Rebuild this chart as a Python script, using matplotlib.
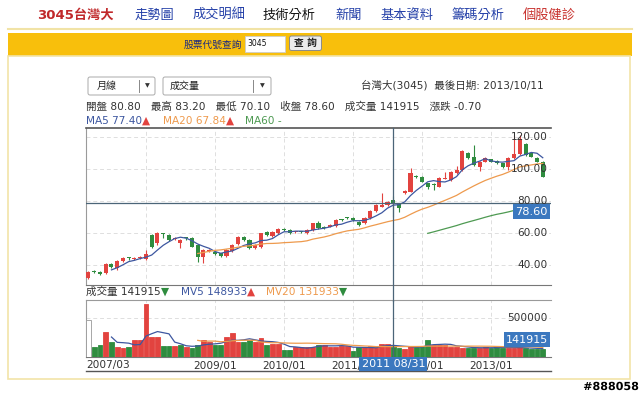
import matplotlib.pyplot as plt
from matplotlib.patches import Rectangle, FancyBboxPatch
from matplotlib.transforms import blended_transform_factory
import matplotlib.patheffects as pe
import numpy as np
import pandas as pd

plt.rcParams['font.family'] = ['DejaVu Sans', 'Noto Sans CJK TC']

# monthly candles, 2007/03 .. 2013/10
months = pd.period_range("2007-03", "2013-10", freq="M")
opens = [32.1, 36.0, 35.8, 34.8, 40.8, 37.9, 42.3, 44.8, 44.0, 44.3,
         43.8, 58.5, 53.6, 59.5, 58.7, 56.3, 53.6, 56.9, 56.7, 52.5,
         45.2, 48.6, 48.3, 47.3, 45.8, 48.8, 52.9, 57.7, 55.6, 50.4,
         51.4, 60.4, 58.3, 59.8, 62.3, 61.9, 60.6, 60.9, 59.8, 61.9,
         66.0, 63.8, 64.0, 64.4, 68.3, 69.3, 69.2, 67.0, 66.0, 69.2,
         73.8, 76.5, 77.5, 80.8, 78.5, 84.8, 85.8, 95.6, 95.2, 91.0,
         90.3, 89.0, 94.0, 93.1, 97.3, 99.4, 109.8, 107.7, 101.5, 104.6,
         106.0, 105.0, 103.5, 101.5, 106.7, 109.2, 115.4, 109.8, 107.1, 104.6]
highs = [36.5, 36.8, 36.3, 41.0, 41.5, 43.0, 45.2, 45.3, 45.0, 45.5,
         49.4, 59.5, 60.5, 60.3, 59.3, 57.3, 56.2, 57.3, 57.2, 53.0,
         50.0, 50.0, 48.8, 47.8, 49.8, 52.9, 58.2, 58.3, 56.0, 53.0,
         60.3, 61.0, 61.3, 63.0, 62.9, 62.4, 61.5, 61.4, 62.4, 66.5,
         67.5, 64.5, 65.5, 68.6, 68.9, 69.9, 69.7, 67.5, 69.7, 74.4,
         78.0, 84.8, 80.1, 83.2, 79.0, 86.8, 100.8, 96.5, 95.7, 91.5,
         91.0, 94.7, 98.3, 98.8, 101.9, 111.9, 110.5, 115.0, 105.1, 107.6,
         106.5, 105.5, 104.0, 107.6, 121.0, 121.0, 116.0, 110.3, 107.6, 105.1]
lows = [31.0, 35.0, 33.8, 34.3, 38.3, 37.0, 41.8, 43.2, 43.0, 43.5,
        43.3, 50.8, 52.8, 57.0, 55.0, 55.8, 50.8, 55.8, 51.0, 42.1,
        41.0, 48.0, 46.3, 45.3, 45.3, 48.3, 52.4, 55.1, 50.3, 49.9,
        50.9, 58.3, 57.8, 59.3, 61.3, 59.3, 60.0, 60.2, 59.3, 61.4,
        62.4, 62.8, 63.5, 63.9, 67.5, 68.6, 67.6, 64.2, 65.5, 68.7,
        73.3, 76.0, 77.0, 70.1, 72.9, 84.3, 85.3, 94.5, 91.6, 87.5,
        86.9, 88.5, 93.5, 92.6, 96.8, 98.9, 106.2, 102.0, 99.0, 104.1,
        104.1, 103.0, 100.4, 99.4, 106.2, 108.7, 108.2, 107.2, 104.1, 94.7]
closes = [35.8, 35.5, 34.2, 40.4, 38.9, 42.5, 44.6, 44.2, 44.4, 44.5,
          46.7, 51.4, 59.8, 59.2, 55.6, 56.6, 55.6, 56.7, 51.4, 45.2,
          49.4, 49.4, 46.8, 45.8, 49.4, 52.5, 57.7, 55.6, 50.8, 52.5,
          59.8, 58.8, 60.8, 62.5, 61.9, 59.8, 60.8, 60.8, 61.9, 66.0,
          62.9, 63.3, 65.0, 68.1, 68.1, 69.2, 68.1, 64.7, 69.2, 73.9,
          77.5, 77.7, 79.3, 78.6, 75.4, 86.3, 97.3, 95.2, 92.1, 89.0,
          90.0, 94.2, 94.2, 98.3, 99.4, 111.2, 106.7, 102.5, 104.6, 107.1,
          104.6, 103.5, 101.5, 107.1, 109.2, 118.8, 108.8, 107.7, 104.6, 95.2]
volumes = [474000, 132000, 154000, 325000, 196000, 132000, 111000, 122000, 218000, 218000,
           675000, 260000, 260000, 145000, 145000, 145000, 154000, 132000, 111000, 158000,
           222000, 196000, 154000, 154000, 260000, 312000, 188000, 188000, 218000, 196000,
           239000, 158000, 171000, 171000, 84990, 86000, 132000, 132000, 132000, 132000,
           160000, 160000, 132000, 132000, 145000, 145000, 77000, 122000, 122000, 140000,
           132000, 170000, 160750, 141915, 111000, 103000, 145000, 132000, 145000, 218000,
           150000, 160000, 150000, 130000, 125000, 120000, 118000, 110000, 120000, 125000,
           120000, 125000, 120000, 118000, 120000, 125000, 110000, 100000, 100000, 100000]

grid_months = ["2008-01", "2009-01", "2010-01", "2011-01", "2012-01", "2013-01"]
grid_labels = ["", "2009/01", "2010/01", "2011/01", "2012/01", "2013/01"]
price_ticks = [40, 60, 80, 100, 120]
cross_month = "2011-08"

nav_items = ["走勢圖", "成交明細", "技術分析", "新聞", "基本資料", "籌碼分析", "個股健診"]
nav_x = [154, 219.5, 289, 348.5, 407, 478.5, 549.5]
nav_colors = ["#2440a8", "#2440a8", "#111111", "#2440a8", "#2440a8", "#2440a8", "#c8302c"]

RED = "#e2433f"
GREEN = "#2f8c3f"
MA5_C = "#3d57a0"
MA20_C = "#ee9a4d"
MA60_C = "#4e9a52"
BOX = "#3b78bf"
CROSS = "#4b6578"
TXT = "#333333"
FS = 7.6

o = np.array(opens)
h = np.array(highs)
l = np.array(lows)
c = np.array(closes)
v = np.array(volumes)
idx = np.arange(len(months))
mlist = [str(m) for m in months]
gpos = [mlist.index(g) for g in grid_months]
xi = mlist.index(cross_month)

ma5 = pd.Series(c).rolling(5).mean()
ma20 = pd.Series(c).rolling(20).mean()
ma60 = pd.Series(c).rolling(60).mean()
mv5 = pd.Series(v).rolling(5).mean()
mv20 = pd.Series(v).rolling(20).mean()

fig = plt.figure(figsize=(6.4, 3.96), dpi=100)

# page background in pixel coords
page = fig.add_axes([0, 0, 1, 1])
page.set_xlim(0, 640)
page.set_ylim(396, 0)
page.axis("off")

page.text(37, 15, "3045台灣大", color="#c0282a", fontsize=9.5, fontweight="bold",
          ha="left", va="center")
for t, x, col in zip(nav_items, nav_x, nav_colors):
    page.text(x, 15, t, color=col, fontsize=9.5, ha="center", va="center")

page.plot([8, 632], [29, 29], color="#f1e3a6", lw=1.5)
page.add_patch(Rectangle((8, 33), 624, 23, fc="#f8bf0c", ec="none"))
page.text(242, 45, "股票代號查詢", color="#1c2a80", fontsize=7, ha="right", va="center")
page.add_patch(Rectangle((245, 36), 40, 16, fc="white", ec="#cccccc", lw=0.6))
page.text(247, 43, "3045", fontsize=5.5, ha="left", va="center", color="#111")
page.add_patch(FancyBboxPatch((289.5, 36), 32, 14.5, boxstyle="round,pad=0,rounding_size=2",
                              fc="#ececec", ec="#8a8a8a", lw=0.7))
page.text(305.5, 43, "查 詢", fontsize=7, ha="center", va="center", color="#222",
          fontweight="bold")

page.add_patch(Rectangle((8, 56), 622, 323, fc="white", ec="#f2e4a8", lw=1.2))

# dropdowns
page.add_patch(FancyBboxPatch((88, 77), 67, 18, boxstyle="round,pad=0,rounding_size=2",
                              fc="white", ec="#aaaaaa", lw=0.7))
page.plot([139, 139], [80, 92], color="#888", lw=0.7)
page.text(147, 86, "▼", fontsize=4.5, ha="center", va="center", color="#333")
page.text(97, 86, "月線", fontsize=7.2, ha="left", va="center", color="#222")
page.add_patch(FancyBboxPatch((163, 77), 108, 18, boxstyle="round,pad=0,rounding_size=2",
                              fc="white", ec="#aaaaaa", lw=0.7))
page.plot([253, 253], [80, 92], color="#888", lw=0.7)
page.text(262, 86, "▼", fontsize=4.5, ha="center", va="center", color="#333")
page.text(170, 86, "成交量", fontsize=7.2, ha="left", va="center", color="#222")

page.text(544, 85, "台灣大(3045)  最後日期: 2013/10/11", fontsize=FS, ha="right",
          va="center", color=TXT)

r = xi
info = (f"開盤 {o[r]:.2f}   最高 {h[r]:.2f}   最低 {l[r]:.2f}   收盤 {c[r]:.2f}   "
        f"成交量 {v[r]}   漲跌 {c[r] - c[r - 1]:.2f}")
page.text(86, 107, info, fontsize=FS, ha="left", va="center", color=TXT)

fig.canvas.draw()
renderer = fig.canvas.get_renderer()


def pieces(x, y, parts):
    for s, col in parts:
        t = page.text(x, y, s, fontsize=FS, ha="left", va="center", color=col)
        bb = t.get_window_extent(renderer)
        x += bb.width * 640 / fig.bbox.width


def arrow(a, b):
    return ("▲", RED) if a >= b else ("▼", GREEN)


pieces(86, 121, [(f"MA5 {ma5[r]:.2f}", MA5_C), arrow(ma5[r], ma5[r - 1])])
pieces(163, 121, [(f"MA20 {ma20[r]:.2f}", MA20_C), arrow(ma20[r], ma20[r - 1])])
pieces(245, 121, [("MA60 -", MA60_C)])

pieces(86, 292, [(f"成交量 {v[r]}", TXT), arrow(v[r], v[r - 1])])
pieces(181, 292, [(f"MV5 {mv5[r]:.0f}", MA5_C), arrow(mv5[r], mv5[r - 1])])
pieces(266, 292, [(f"MV20 {mv20[r]:.0f}", MA20_C), arrow(mv20[r], mv20[r - 1])])

page.plot([86, 551], [371, 371], color="#555555", lw=1)
page.text(611, 387, "#888058", fontsize=8, fontweight="bold", ha="center", va="center",
          color="black", path_effects=[pe.withStroke(linewidth=2, foreground="white")])

# price panel
ax = fig.add_axes([86 / 640, 1 - 285 / 396, 465 / 640, 157 / 396])
ax.set_xlim(-0.43, 80.43)
ax.set_ylim(27.5, 125.6)
ax.set_facecolor("none")
ax.spines["right"].set_visible(False)
ax.spines["top"].set_color("#555555")
ax.spines["top"].set_linewidth(1.2)
ax.spines["left"].set_color("#9a9a9a")
ax.spines["bottom"].set_color("#777777")
ax.set_yticks(price_ticks)
ax.set_xticks(gpos)
ax.tick_params(length=0, labelleft=False, labelbottom=False)
ax.grid(True, color="#dedede", ls=(0, (4, 3)), lw=0.7)

cols = [RED if cc >= oo else GREEN for oo, cc in zip(o, c)]
ax.vlines(idx, l, h, colors=cols, lw=0.8, zorder=3)
ax.bar(idx, np.maximum(np.abs(c - o), 0.5), bottom=np.minimum(o, c), width=0.7,
       color=cols, zorder=3)
ax.plot(idx, ma5, color=MA5_C, lw=0.9, zorder=4)
ax.plot(idx, ma20, color=MA20_C, lw=0.9, zorder=4)
ax.plot(idx, ma60, color=MA60_C, lw=0.9, zorder=4)

yx = blended_transform_factory(ax.transAxes, ax.transData)
for p in price_ticks:
    ax.text(0.9935, p, f"{p:.2f}", transform=yx, ha="right", va="center",
            fontsize=FS, color=TXT, zorder=6)
ax.axhline(c[r], color=CROSS, lw=0.9, zorder=5)
# vertical crosshair runs down through the gap to the volume panel
ax.axvline(xi, ymin=-0.1, ymax=1, color=CROSS, lw=0.9, zorder=5, clip_on=False)
ax.annotate(f"{c[r]:.2f}", xy=(0.9935, c[r]), xycoords=yx, xytext=(0, -2.5),
            textcoords="offset points", ha="right", va="top", fontsize=FS + 0.6,
            color="white", zorder=7,
            bbox=dict(boxstyle="square,pad=0.2", fc=BOX, ec="none"))

# volume panel
axv = fig.add_axes([86 / 640, 1 - 357 / 396, 465 / 640, 57 / 396])
axv.set_xlim(-0.43, 80.43)
axv.set_ylim(0, 730800)
axv.set_facecolor("none")
axv.spines["right"].set_visible(False)
for side in ["top", "left"]:
    axv.spines[side].set_color("#9a9a9a")
axv.spines["bottom"].set_color("#777777")
axv.set_yticks([500000])
axv.set_xticks(gpos)
axv.set_xticklabels(grid_labels)
axv.tick_params(length=0, labelleft=False, labelsize=FS, labelcolor=TXT, pad=3)
axv.grid(True, color="#dedede", ls=(0, (4, 3)), lw=0.7)
axv.text(-0.4, -0.14, "2007/03", transform=blended_transform_factory(axv.transData, axv.transAxes),
         ha="left", va="center", fontsize=FS, color=TXT)

vcols = ["white"] + [RED if c[i] >= c[i - 1] else GREEN for i in range(1, len(c))]
vedge = ["#999999"] + vcols[1:]
axv.bar(idx, v, width=0.82, color=vcols, edgecolor=vedge, lw=0.6, zorder=3)
axv.plot(idx, mv5, color=MA5_C, lw=0.9, zorder=4)
axv.plot(idx, mv20, color=MA20_C, lw=0.9, zorder=4)

vx = blended_transform_factory(axv.transAxes, axv.transData)
axv.text(0.9935, 500000, "500000", transform=vx, ha="right", va="center", fontsize=FS,
         color=TXT, zorder=6)
axv.annotate(f"{v[r]}", xy=(0.9935, v[r]), xycoords=vx, xytext=(0, 1),
             textcoords="offset points", ha="right", va="bottom", fontsize=FS + 0.4,
             color="white", zorder=7,
             bbox=dict(boxstyle="square,pad=0.2", fc=BOX, ec="none"))
axv.axvline(xi, color=CROSS, lw=0.9, zorder=5)
axv.annotate("2011 08/31", xy=(xi, 0), xycoords=("data", "axes fraction"),
             xytext=(0, -1.5), textcoords="offset points", ha="center", va="top",
             fontsize=FS + 0.4, color="white", zorder=7, annotation_clip=False,
             bbox=dict(boxstyle="square,pad=0.2", fc=BOX, ec="none"))

fig.savefig("out.png", dpi=100)
